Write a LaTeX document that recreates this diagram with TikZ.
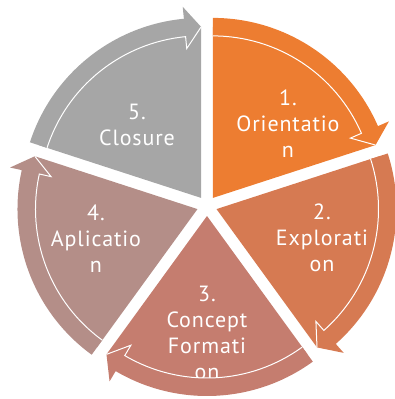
\documentclass[tikz,border=0pt]{standalone}
\usepackage{fontspec}
\setmainfont{PT Sans}[LetterSpace=4]
\definecolor{segA}{HTML}{ED7D31}
\definecolor{segB}{HTML}{D67A52}
\definecolor{segC}{HTML}{C57D6F}
\definecolor{segD}{HTML}{B48E88}
\definecolor{segE}{HTML}{A6A6A6}
\tikzset{
  seglabel/.style={text=white, align=center, font=\fontsize{22}{26}\selectfont},
  outline/.style={draw=white, line width=1pt}
}
\begin{document}
\begin{tikzpicture}[x=1pt,y=1pt]
\useasboundingbox (-207,-193) rectangle (188,206);

% 1. Orientation
\fill[segA, shift={(54:10)}] (0,0) -- (90:171) arc[start angle=90, end angle=18, radius=171] -- cycle;
\node[seglabel] (S1) at (81,82) {1.\\Orientatio\\n};
\fill[segA, shift={(54:10)}] (90:180) arc[start angle=90, end angle=23.5, radius=180] -- (23.5:192) -- (18:171) -- (23.5:150) -- (23.5:162) arc[start angle=23.5, end angle=90, radius=162] -- cycle;
\draw[outline, shift={(54:10)}] (90:162) arc[start angle=90, end angle=23.5, radius=162] -- (23.5:150) -- (18:171);

% 2. Exploration
\fill[segB, shift={(-18:10)}, rotate=-72] (0,0) -- (90:171) arc[start angle=90, end angle=18, radius=171] -- cycle;
\node[seglabel] (S2) at (115,-32) {2.\\Explorati\\on};
\fill[segB, shift={(-18:10)}, rotate=-72] (90:180) arc[start angle=90, end angle=23.5, radius=180] -- (23.5:192) -- (18:171) -- (23.5:150) -- (23.5:162) arc[start angle=23.5, end angle=90, radius=162] -- cycle;
\draw[outline, shift={(-18:10)}, rotate=-72] (90:162) arc[start angle=90, end angle=23.5, radius=162] -- (23.5:150) -- (18:171);

% 3. Concept Formation
\fill[segC, shift={(-90:10)}, rotate=-144] (0,0) -- (90:171) arc[start angle=90, end angle=18, radius=171] -- cycle;
\node[seglabel] (S3) at (0,-127) {3.\\Concept\\Formati\\on};
\fill[segC, shift={(-90:10)}, rotate=-144] (90:180) arc[start angle=90, end angle=23.5, radius=180] -- (23.5:192) -- (18:171) -- (23.5:150) -- (23.5:162) arc[start angle=23.5, end angle=90, radius=162] -- cycle;
\draw[outline, shift={(-90:10)}, rotate=-144] (90:162) arc[start angle=90, end angle=23.5, radius=162] -- (23.5:150) -- (18:171);

% 4. Aplication
\fill[segD, shift={(198:10)}, rotate=-216] (0,0) -- (90:171) arc[start angle=90, end angle=18, radius=171] -- cycle;
\node[seglabel] (S4) at (-111,-33) {4.\\Aplicatio\\n};
\fill[segD, shift={(198:10)}, rotate=-216] (90:180) arc[start angle=90, end angle=23.5, radius=180] -- (23.5:192) -- (18:171) -- (23.5:150) -- (23.5:162) arc[start angle=23.5, end angle=90, radius=162] -- cycle;
\draw[outline, shift={(198:10)}, rotate=-216] (90:162) arc[start angle=90, end angle=23.5, radius=162] -- (23.5:150) -- (18:171);

% 5. Closure
\fill[segE, shift={(126:10)}, rotate=-288] (0,0) -- (90:171) arc[start angle=90, end angle=18, radius=171] -- cycle;
\node[seglabel] (S5) at (-70,81) {5.\\Closure};
\fill[segE, shift={(126:10)}, rotate=-288] (90:180) arc[start angle=90, end angle=23.5, radius=180] -- (23.5:192) -- (18:171) -- (23.5:150) -- (23.5:162) arc[start angle=23.5, end angle=90, radius=162] -- cycle;
\draw[outline, shift={(126:10)}, rotate=-288] (90:162) arc[start angle=90, end angle=23.5, radius=162] -- (23.5:150) -- (18:171);

\end{tikzpicture}
\end{document}
